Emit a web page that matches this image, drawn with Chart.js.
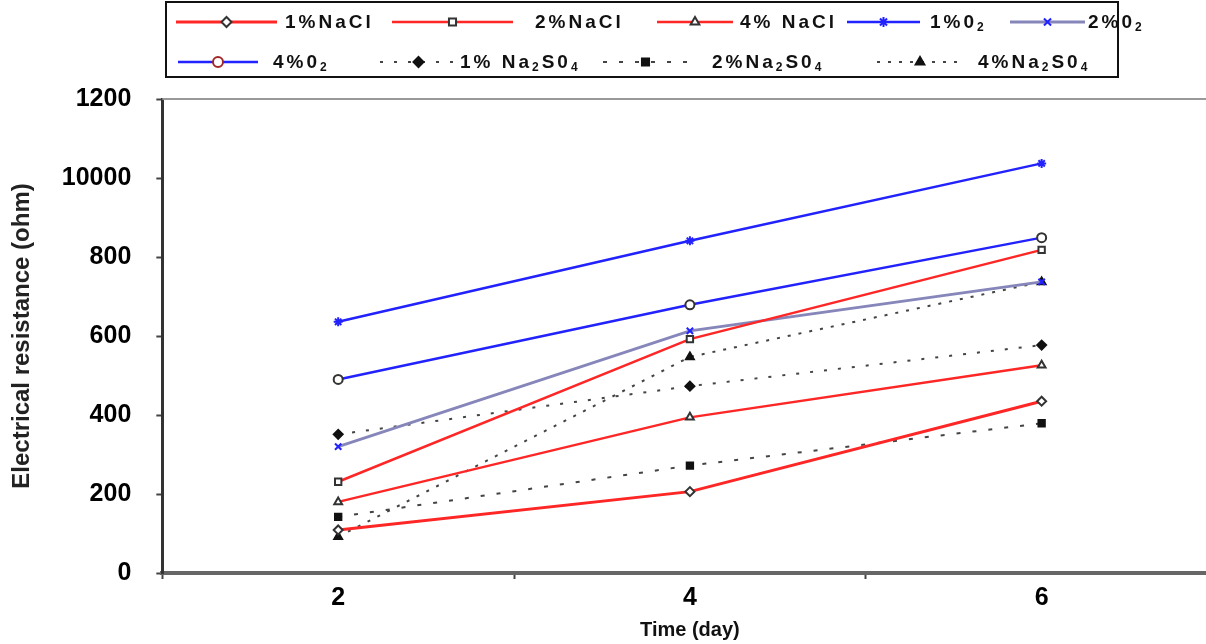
<!DOCTYPE html>
<html>
<head>
<meta charset="utf-8">
<script src="https://cdn.jsdelivr.net/npm/chart.js@4/dist/chart.umd.min.js"></script>
<style>
  html, body { margin: 0; padding: 0; background: #fff; overflow: hidden; }
  #wrap { width: 1224px; height: 644px; }
</style>
</head>
<body>
<div id="wrap"><canvas id="chart" width="1224" height="644"></canvas></div>
<script>
// data
var days = ['2', '4', '6'];
var yTickLabels = ['0', '200', '400', '600', '800', '10000', '1200'];

var nacl1 = [109, 206, 435];
var nacl2 = [231, 592, 818];
var nacl4 = [180, 394, 526];
var o2_1 = [636, 841, 1037];
var o2_2 = [320, 613, 737];
var o2_4 = [490, 679, 849];
var na2so4_1 = [351, 473, 577];
var na2so4_2 = [142, 272, 379];
var na2so4_4 = [92, 547, 737];

var names = ['1%NaCl', '2%NaCl', '4% NaCl', '1%0\u2082', '2%0\u2082',
             '4%0\u2082', '1% Na\u2082S0\u2084', '2%Na\u2082S0\u2084', '4%Na\u2082S0\u2084'];

// legend layout: [lineStart, lineEnd, textX, rowY]
var legendSlots = [
  [176, 277, 285, 22], [392, 513, 535, 22], [657, 733, 740, 22], [847, 920, 930, 22], [1010, 1085, 1088, 22],
  [178, 258, 273, 62], [380, 457, 460, 62], [603, 688, 712, 62], [877, 963, 978, 62]
];

Chart.defaults.font.family = '"Liberation Sans", Arial, sans-serif';
Chart.defaults.color = '#000';

function series(label, data, color, width, style, fill, dash, legendMarker) {
  return {
    label: label,
    data: data,
    borderColor: color,
    borderWidth: width,
    borderDash: dash || [],
    pointStyle: style,
    pointRadius: 4.5,
    pointBorderWidth: 2,
    pointBorderColor: fill ? '#111' : '#333',
    pointBackgroundColor: fill ? '#111' : '#fff',
    legendMarker: legendMarker,
    tension: 0,
    fill: false
  };
}

var blue = '#2222ff';
var red = '#ff2626';
var dots = '#444';

var datasets = [
  series(names[0], nacl1, red, 3, 'rectRot', false),
  series(names[1], nacl2, red, 2.5, 'rect', false),
  series(names[2], nacl4, red, 2.5, 'triangle', false),
  series(names[3], o2_1, blue, 2.5, 'star', false),
  series(names[4], o2_2, '#8686ba', 3, 'crossRot', false),
  series(names[5], o2_4, blue, 2.5, 'circle', false, null, '#a02828'),
  series(names[6], na2so4_1, dots, 2, 'rectRot', true, [3, 11]),
  series(names[7], na2so4_2, dots, 2, 'rect', true, [4, 12]),
  series(names[8], na2so4_4, dots, 2, 'triangle', true, [3, 8])
];
// star / cross markers take the line colour
datasets[3].pointBorderColor = blue;
datasets[4].pointBorderColor = blue;

// text with unicode subscript digits drawn as small lowered digits
function drawRich(ctx, text, x, y, size, spacing) {
  for (var k = 0; k < text.length; k++) {
    var code = text.charCodeAt(k);
    var ch = text[k];
    var dy = 0;
    var sz = size;
    if (code >= 0x2080 && code <= 0x2089) {
      ch = String.fromCharCode(code - 0x2080 + 48);
      sz = Math.round(size * 0.62);
      dy = 5;
    }
    ctx.font = 'bold ' + sz + 'px "Liberation Sans", Arial, sans-serif';
    ctx.fillText(ch, x, y + dy);
    x += ctx.measureText(ch).width + spacing;
  }
}

var legendBox = {
  id: 'legendBox',
  afterDraw: function(chart) {
    var ctx = chart.ctx;
    var area = chart.chartArea;
    ctx.save();
    // top frame line of the plot
    ctx.strokeStyle = '#999';
    ctx.lineWidth = 2;
    ctx.beginPath();
    ctx.moveTo(area.left, area.top);
    ctx.lineTo(chart.width, area.top);
    ctx.stroke();

    ctx.strokeStyle = '#111';
    ctx.lineWidth = 2;
    ctx.strokeRect(166, 2, 952, 75);

    chart.data.datasets.forEach(function(ds, i) {
      var s = legendSlots[i];
      var y = s[3];
      ctx.strokeStyle = ds.borderColor;
      ctx.lineWidth = ds.borderWidth;
      ctx.setLineDash(ds.borderDash);
      ctx.beginPath();
      ctx.moveTo(s[0], y);
      ctx.lineTo(s[1], y);
      ctx.stroke();
      ctx.setLineDash([]);
      var mid = (s[0] + s[1]) / 2;
      ctx.fillStyle = ds.pointBackgroundColor;
      ctx.strokeStyle = ds.legendMarker || ds.pointBorderColor;
      ctx.lineWidth = 2;
      Chart.helpers.drawPoint(ctx, {pointStyle: ds.pointStyle, radius: 5, borderWidth: 2, rotation: 0}, mid, y);
      ctx.fillStyle = '#111';
      ctx.textBaseline = 'middle';
      ctx.textAlign = 'left';
      drawRich(ctx, ds.label, s[2], y + 1, 19, 3);
    });
    ctx.restore();
  }
};

new Chart(document.getElementById('chart'), {
  type: 'line',
  data: { labels: days, datasets: datasets },
  plugins: [legendBox],
  options: {
    responsive: false,
    animation: false,
    events: [],
    layout: { padding: { left: 8, right: 0, top: 99, bottom: 2 } },
    plugins: {
      legend: { display: false },
      tooltip: { enabled: false }
    },
    scales: {
      x: {
        offset: true,
        grid: { offset: true, drawOnChartArea: false, drawTicks: true, tickLength: 6, tickWidth: 2, tickColor: '#444' },
        border: { display: true, color: '#666', width: 4 },
        ticks: { font: { size: 25, weight: 'bold', lineHeight: 1 }, padding: 7, color: '#000' },
        title: { display: true, text: 'Time (day)', font: { size: 20, weight: 'bold' }, padding: { top: 0, bottom: 0 }, color: '#111' }
      },
      y: {
        min: 0,
        max: 1200,
        ticks: {
          stepSize: 200,
          font: { size: 25, weight: 'bold' },
          padding: 25,
          color: '#000',
          callback: function(v, i) { return yTickLabels[i]; }
        },
        grid: { drawOnChartArea: false, drawTicks: true, tickLength: 6, tickWidth: 2, tickColor: '#444' },
        border: { display: true, color: '#333', width: 3 },
        title: { display: true, text: 'Electrical resistance (ohm)', font: { size: 24, weight: 'bold' }, padding: { top: 0, bottom: 0 }, color: '#222' }
      }
    }
  }
});
</script>
</body>
</html>
